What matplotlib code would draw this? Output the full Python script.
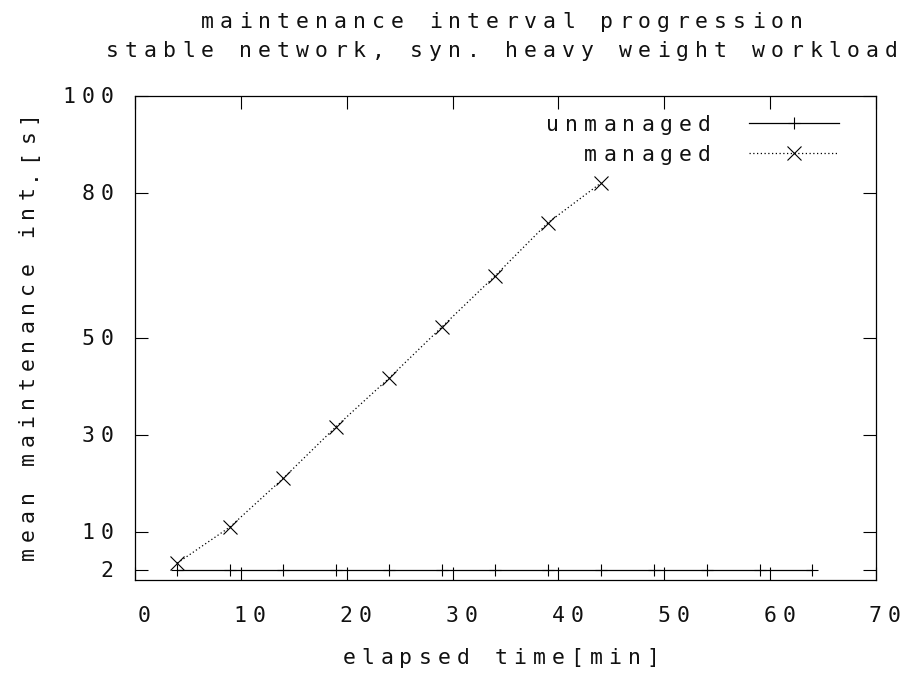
import matplotlib
matplotlib.use("Agg")
import matplotlib.pyplot as plt
from matplotlib.lines import Line2D
from matplotlib.transforms import Affine2D, blended_transform_factory, offset_copy

# data
elapsed_unmanaged = [4, 9, 14, 19, 24, 29, 34, 39, 44, 49, 54, 59, 64]
interval_unmanaged = [2, 2, 2, 2, 2, 2, 2, 2, 2, 2, 2, 2, 2]
elapsed_managed = [4, 9, 14, 19, 24, 29, 34, 39, 44]
interval_managed = [3.5, 11, 21, 31.7, 41.7, 52.3, 62.8, 73.8, 82]

xticks = [0, 10, 20, 30, 40, 50, 60, 70]
yticks = [2, 10, 30, 50, 80, 100]
title_lines = ["maintenance interval progression",
               "stable network, syn. heavy weight workload"]
xlabel = "elapsed time[min]"
ylabel = "mean maintenance int.[s]"
series_labels = ["unmanaged", "managed"]

W, H = 904, 675
PITCH = 19  # gnuplot bitmap font has a wide fixed cell
FONT = dict(family="DejaVu Sans Mono", size=15.5, color="#111111")

fig = plt.figure(figsize=(W / 100, H / 100), dpi=100)
ax = fig.add_axes([135 / W, 95 / H, 741 / W, 484 / H])
px = Affine2D().scale(1 / W, 1 / H) + fig.transFigure


def spaced_text(s, x, y, transform, ha="center", rotation=0):
    # draw one glyph per cell so the spacing looks like the gnuplot font
    n = len(s)
    span = (n - 1) * PITCH
    if ha == "center":
        first = -span / 2
    elif ha == "right":
        first = -span
    else:
        first = 0
    for i, ch in enumerate(s):
        if ch == " ":
            continue
        d = first + i * PITCH
        if rotation == 90:
            tr = offset_copy(transform, fig=fig, x=0, y=d, units="dots")
        else:
            tr = offset_copy(transform, fig=fig, x=d, y=0, units="dots")
        fig.text(x, y, ch, transform=tr, ha="center", va="baseline",
                 rotation=rotation, rotation_mode="anchor", **FONT)


unmanaged_style = dict(color="black", lw=0.9, marker="+", ms=9, mew=0.8)
managed_style = dict(color="black", lw=0.9, ls=(0, (1, 2)), marker="x", ms=9.5, mew=0.8)

ax.plot(elapsed_unmanaged, interval_unmanaged, **unmanaged_style)
ax.plot(elapsed_managed, interval_managed, **managed_style)

ax.set_xlim(0, 70)
ax.set_ylim(0, 100)
ax.set_xticks(xticks)
ax.set_yticks(yticks)
ax.tick_params(direction="in", length=9.5, width=0.8, top=True, right=True,
               labelbottom=False, labelleft=False)
for sp in ax.spines.values():
    sp.set_linewidth(0.9)

# tick labels
xt = blended_transform_factory(ax.transData, ax.transAxes)
for t in xticks:
    tr = offset_copy(xt, fig=fig, x=9, y=-42, units="dots")
    spaced_text(str(t), t, 0, tr)
yt = blended_transform_factory(ax.transAxes, ax.transData)
for t in yticks:
    tr = offset_copy(yt, fig=fig, x=-28, y=-7, units="dots")
    spaced_text(str(t), 0, t, tr, ha="right")

# titles and axis labels
spaced_text(title_lines[0], 502, H - 28, px)
spaced_text(title_lines[1], 502, H - 57, px)
spaced_text(xlabel, 501, 11, px)
spaced_text(ylabel, 33.5, H - 335, px, rotation=90)

# key, gnuplot style: text on the left, sample on the right
key_rows = [0.944, 0.882]
for label, style, ky in zip(series_labels, [unmanaged_style, managed_style], key_rows):
    ax.add_line(Line2D([0.828, 0.95], [ky, ky], transform=ax.transAxes,
                       **{k: v for k, v in style.items() if k not in ("marker", "ms", "mew")}))
    ax.add_line(Line2D([0.889], [ky], transform=ax.transAxes, ls="none",
                       color="black", marker=style["marker"], ms=style["ms"], mew=style["mew"]))
    tr = offset_copy(ax.transAxes, fig=fig, x=-15, y=-8, units="dots")
    spaced_text(label, 0.789, ky, tr, ha="right")

fig.savefig("out.png", dpi=100)
